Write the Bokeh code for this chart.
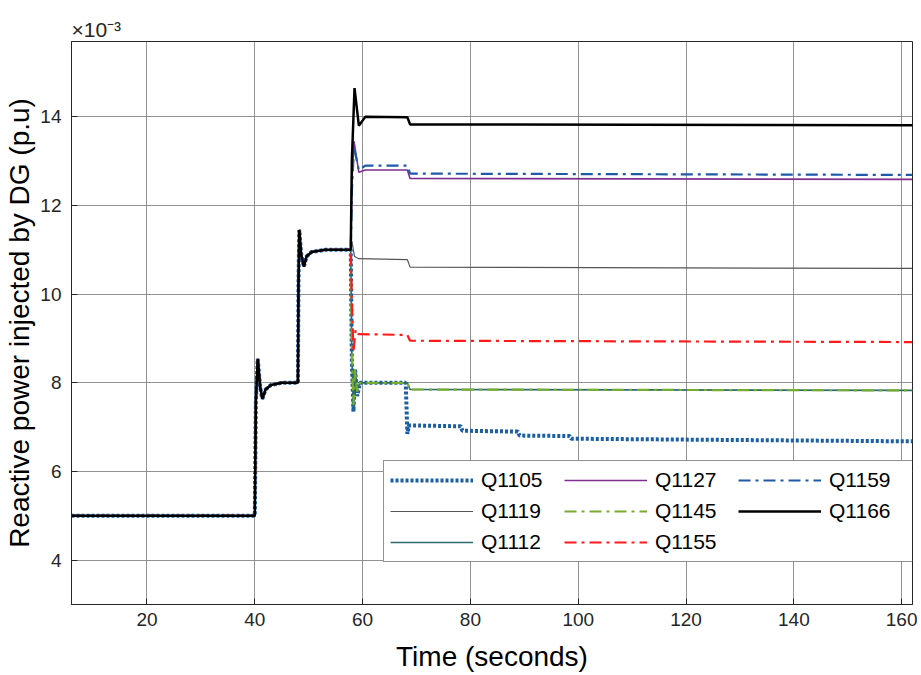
from bokeh.plotting import figure
from bokeh.models import Legend, LegendItem, Title, FixedTicker, Range1d
from bokeh.embed import file_html
from bokeh.resources import INLINE

# values in units of 1e-3 p.u.
common_t = [6, 40, 40.2, 40.55, 41.0, 41.4, 42.0, 43.0, 45.0, 48.0, 48.1, 48.25, 48.6, 49.1, 49.6, 50.5, 53.0, 57.8]
common_q = [5.0, 5.0, 7.6, 8.54, 7.9, 7.64, 7.85, 7.95, 8.0, 8.0, 10.2, 11.45, 10.9, 10.62, 10.85, 10.95, 11.0, 11.0]

t_1105 = [58.0, 58.3, 58.6, 59.0, 59.5, 68.0, 68.3, 68.6, 78.2, 78.5, 88.8, 89.1, 98.4, 98.7, 130.0, 162.0]
q_1105 = [8.5, 7.35, 8.3, 7.7, 8.0, 8.0, 6.85, 7.04, 7.02, 6.92, 6.9, 6.81, 6.8, 6.74, 6.71, 6.68]
t_1119 = [58.0, 58.5, 59.3, 68.3, 68.8, 162.0]
q_1119 = [11.2, 10.85, 10.8, 10.78, 10.61, 10.58]
t_1112 = [58.0, 58.3, 58.6, 59.0, 59.5, 68.3, 68.8, 162.0]
q_1112 = [8.6, 7.4, 8.2, 7.85, 8.0, 8.0, 7.85, 7.83]
t_1127 = [58.0, 58.4, 59.3, 60.5, 68.3, 68.8, 162.0]
q_1127 = [12.5, 13.45, 12.75, 12.8, 12.8, 12.61, 12.59]
t_1145 = [58.0, 58.3, 58.6, 59.0, 59.5, 68.3, 68.8, 162.0]
q_1145 = [8.7, 7.5, 8.3, 7.8, 8.0, 8.0, 7.85, 7.83]
t_1155 = [58.0, 58.3, 58.7, 59.2, 68.3, 68.8, 162.0]
q_1155 = [9.8, 8.7, 9.2, 9.1, 9.08, 8.95, 8.92]
t_1159 = [58.0, 58.4, 59.3, 60.5, 68.3, 68.8, 162.0]
q_1159 = [12.3, 13.3, 12.8, 12.9, 12.9, 12.72, 12.69]
t_1166 = [58.0, 58.5, 59.3, 60.5, 68.3, 68.8, 162.0]
q_1166 = [13.0, 14.65, 13.8, 14.0, 13.99, 13.83, 13.81]

x_ticks = [20, 40, 60, 80, 100, 120, 140, 160]
y_ticks = [4, 6, 8, 10, 12, 14]

FONT = "Liberation Sans"
TXT = "#262626"

p = figure(width=917, height=674, output_backend="svg", toolbar_location=None,
           x_range=Range1d(6, 162), y_range=Range1d(3, 15.7),
           min_border_left=71, min_border_right=5, min_border_top=41, min_border_bottom=68)
p.outline_line_color = "#262626"
p.outline_line_width = 1
p.outline_line_alpha = 1

for ax, ticks in ((p.xaxis[0], x_ticks), (p.yaxis[0], y_ticks)):
    ax.ticker = FixedTicker(ticks=ticks)
    ax.minor_tick_line_color = None
    ax.major_tick_in = 6
    ax.major_tick_out = 0
    ax.axis_line_color = TXT
    ax.major_tick_line_color = TXT
    ax.major_label_text_font = FONT
    ax.major_label_text_font_size = "19px"
    ax.major_label_text_color = TXT
    ax.axis_label_text_font = FONT
    ax.axis_label_text_font_size = "28px"
    ax.axis_label_text_font_style = "normal"
    ax.axis_label_text_color = "#000000"

p.xaxis.axis_label = "Time (seconds)"
p.yaxis.axis_label = "Reactive power injected by DG (p.u)"
p.xaxis.major_label_standoff = 8
p.xaxis.axis_label_standoff = 12
p.yaxis.major_label_standoff = 10
p.yaxis.axis_label_standoff = 2

p.grid.grid_line_color = "#808080"
p.grid.grid_line_alpha = 0.85
p.grid.grid_line_width = 1
p.xgrid.ticker = FixedTicker(ticks=x_ticks)
p.ygrid.ticker = FixedTicker(ticks=y_ticks)

series = [
    ("Q1105", t_1105, q_1105, dict(line_color="#1a5ea6", line_width=4, line_dash="3 2")),
    ("Q1119", t_1119, q_1119, dict(line_color="#555555", line_width=1.2)),
    ("Q1112", t_1112, q_1112, dict(line_color="#2e6b6b", line_width=1.6)),
    ("Q1127", t_1127, q_1127, dict(line_color="#7e2f8e", line_width=1.6)),
    ("Q1145", t_1145, q_1145, dict(line_color="#77ac30", line_width=2.2, line_dash="12 5 3 5")),
    ("Q1155", t_1155, q_1155, dict(line_color="#ff1a1a", line_width=2.2, line_dash="12 5 3 5")),
    ("Q1159", t_1159, q_1159, dict(line_color="#1f5aa8", line_width=2.2, line_dash="12 5 3 5")),
    ("Q1166", t_1166, q_1166, dict(line_color="#000000", line_width=2.5)),
]

items = []
for name, t, q, style in series:
    r = p.line(common_t + t, common_q + q, **style)
    items.append(LegendItem(label=name, renderers=[r]))

legend = Legend(items=items, location=(312, 42), orientation="vertical", nrows=3,
                label_text_font=FONT, label_text_font_size="21px", label_text_color="#000000",
                glyph_width=83, glyph_height=26, label_height=26, label_width=78, spacing=5,
                label_standoff=8, padding=6, margin=0,
                border_line_color="#262626", border_line_width=1,
                background_fill_color="white", background_fill_alpha=1)
p.add_layout(legend, "center")

p.add_layout(Title(text="×10⁻³", align="left", text_font=FONT, text_font_size="21px",
                   text_font_style="normal", text_color=TXT, standoff=2), "above")

open("out.html", "w").write(file_html(p, INLINE))
